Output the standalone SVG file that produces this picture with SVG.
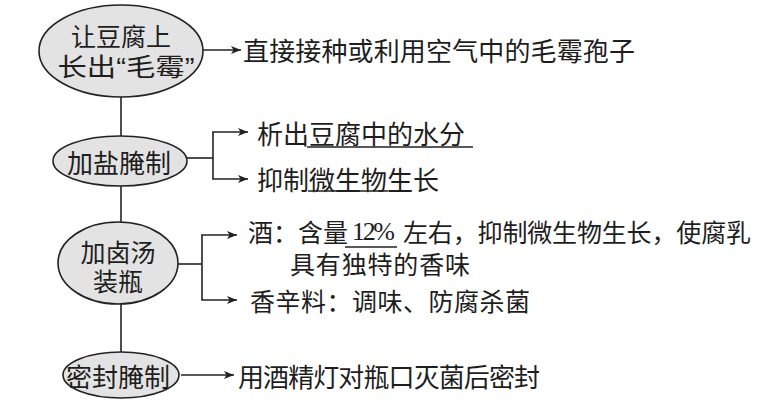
<svg xmlns="http://www.w3.org/2000/svg" width="782" height="409" viewBox="0 0 782 409">
<defs>
<style>
.ell{fill:#e3e3e3;stroke:#222;stroke-width:1.6}
.ln{fill:none;stroke:#222;stroke-width:1.6}
.ul{fill:none;stroke:#222;stroke-width:1.3}
.t{font-family:"Noto Sans CJK SC","Noto Sans",sans-serif;font-size:26px;fill:#1e1e1e;dominant-baseline:central}
.m{font-family:"Liberation Sans","Noto Sans CJK SC",sans-serif;font-size:25px;fill:#1e1e1e;text-anchor:middle}
.c{text-anchor:middle}
.s{font-size:25px}
.num{font-family:"Liberation Serif",serif;font-size:26px;fill:#1e1e1e;dominant-baseline:central}
</style>
<marker id="ah" viewBox="0 0 10 8" refX="10" refY="4" markerWidth="10" markerHeight="8" markerUnits="userSpaceOnUse" orient="auto">
<path d="M0,0 L10,4 L0,8 L2.5,4 Z" fill="#222"/>
</marker>
</defs>
<rect width="782" height="409" fill="#fff"/>
<g id="connectors">
<line class="ln" x1="121" y1="96" x2="121" y2="353"/>
<line class="ln" x1="203" y1="50" x2="241" y2="50" marker-end="url(#ah)"/>
<line class="ln" x1="186" y1="158" x2="213" y2="158"/>
<line class="ln" x1="213" y1="132" x2="213" y2="179"/>
<line class="ln" x1="212.2" y1="132" x2="248" y2="132" marker-end="url(#ah)"/>
<line class="ln" x1="212.2" y1="179" x2="248" y2="179" marker-end="url(#ah)"/>
<line class="ln" x1="178" y1="264" x2="202" y2="264"/>
<line class="ln" x1="202" y1="235" x2="202" y2="300"/>
<line class="ln" x1="201.2" y1="235" x2="237" y2="235" marker-end="url(#ah)"/>
<line class="ln" x1="201.2" y1="300" x2="237" y2="300" marker-end="url(#ah)"/>
<line class="ln" x1="181" y1="375" x2="234" y2="375" marker-end="url(#ah)"/>
</g>
<g id="node1">
<ellipse class="ell" cx="121" cy="51" rx="82" ry="46"/>
<text class="m"><tspan x="121" y="46">让豆腐上</tspan><tspan x="126" y="76" textLength="137" lengthAdjust="spacingAndGlyphs">长出“毛霉”</tspan></text>
</g>
<g id="node2">
<ellipse class="ell" cx="120" cy="161" rx="67" ry="25"/>
<text class="t c" x="119" y="161">加盐腌制</text>
</g>
<g id="node3">
<ellipse class="ell" cx="118" cy="263" rx="60" ry="41"/>
<text class="m"><tspan x="118" y="262">加卤汤</tspan><tspan x="118" y="291">装瓶</tspan></text>
</g>
<g id="node4">
<ellipse class="ell" cx="121" cy="375" rx="58" ry="23"/>
<text class="t c" x="118" y="375">密封腌制</text>
</g>
<g id="labels">
<text class="t" x="243" y="49" textLength="392">直接接种或利用空气中的毛霉孢子</text>
<text class="t" x="257" y="132">析出豆腐中的水分</text>
<line class="ul" x1="307" y1="147" x2="473" y2="147"/>
<text class="t" x="257" y="178">抑制微生物生长</text>
<line class="ul" x1="308" y1="191" x2="388" y2="191"/>
<text class="t s" x="248" y="231">酒：含量</text>
<text class="num" x="352" y="231" textLength="43">12%</text>
<line class="ul" x1="345" y1="247" x2="397" y2="247"/>
<text class="t s" x="403" y="231" textLength="348">左右，抑制微生物生长，使腐乳</text>
<text class="t s" x="290" y="263" textLength="180">具有独特的香味</text>
<text class="t s" x="250" y="300" textLength="280">香辛料：调味、防腐杀菌</text>
<text class="t" x="238" y="375" textLength="302">用酒精灯对瓶口灭菌后密封</text>
</g>
</svg>
